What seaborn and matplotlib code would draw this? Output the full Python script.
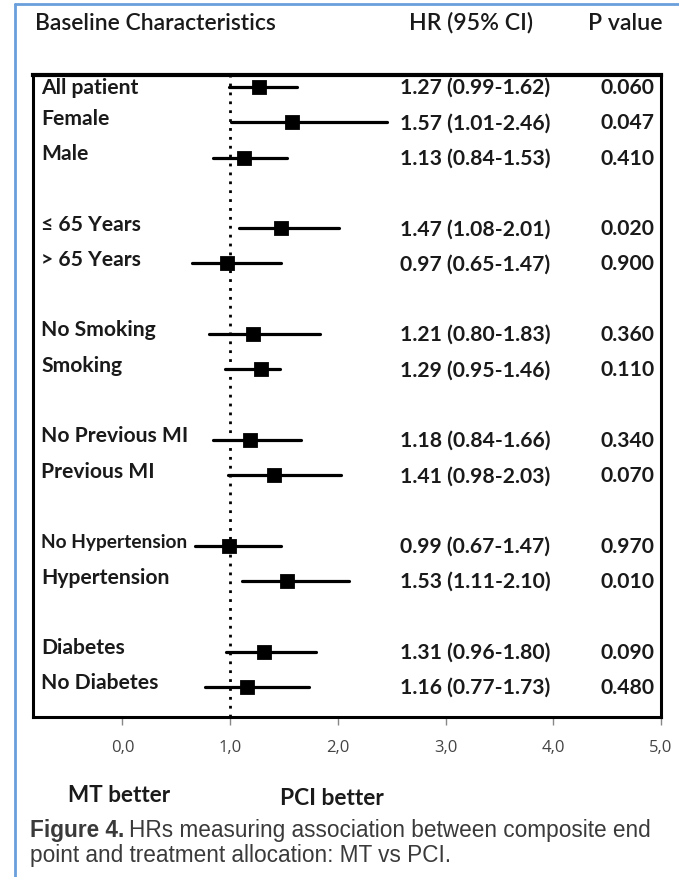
import matplotlib
matplotlib.use("Agg")
import matplotlib.pyplot as plt
import matplotlib.transforms as mtransforms
import numpy as np
import pandas as pd
import seaborn as sns

# Subgroups, grouped as they appear in the table (a blank row separates groups)
groups = [
    ["All patient", "Female", "Male"],
    ["≤ 65 Years", "> 65 Years"],
    ["No Smoking", "Smoking"],
    ["No Previous MI", "Previous MI"],
    ["No Hypertension", "Hypertension"],
    ["Diabetes", "No Diabetes"],
]
hr = [1.27, 1.57, 1.13, 1.47, 0.97, 1.21, 1.29, 1.18, 1.41, 0.99, 1.53, 1.31, 1.16]
ci_low = [0.99, 1.01, 0.84, 1.08, 0.65, 0.80, 0.95, 0.84, 0.98, 0.67, 1.11, 0.96, 0.77]
ci_high = [1.62, 2.46, 1.53, 2.01, 1.47, 1.83, 1.46, 1.66, 2.03, 1.47, 2.10, 1.80, 1.73]
p_values = ["0.060", "0.047", "0.410", "0.020", "0.900", "0.360", "0.110",
            "0.340", "0.070", "0.970", "0.010", "0.090", "0.480"]
x_ticks = [0, 1, 2, 3, 4, 5]
x_tick_labels = ["0,0", "1,0", "2,0", "3,0", "4,0", "5,0"]

# Row order with spacer rows between groups
order = []
labels = []
for gi, g in enumerate(groups):
    if gi > 0:
        order.append(" " * gi)
    for name in g:
        order.append(name)
        labels.append(name)
slot = {name: i for i, name in enumerate(order)}

# Long table: low / estimate / high for each subgroup, so that the
# median gives the HR and the 0-100 percentile interval gives the CI
rows = []
for name, lo, est, hi in zip(labels, ci_low, hr, ci_high):
    for v in (lo, est, hi):
        rows.append({"subgroup": name, "hr": v})
df = pd.DataFrame(rows)

sns.set_theme(style="white")
plt.rcParams["font.family"] = ["Lato", "DejaVu Sans"]

W, H = 679, 878
fig = plt.figure(figsize=(W / 100, H / 100), dpi=100)
fig.patch.set_facecolor("white")

left, right, top, bottom = 33, 661, 76, 718
ax = fig.add_axes([left / W, 1 - bottom / H, (right - left) / W, (bottom - top) / H])

sns.pointplot(
    data=df, x="hr", y="subgroup", order=order, orient="h",
    estimator="median", errorbar=("pi", 100), color="black",
    markers="s", linestyles="none", markersize=8.8,
    err_kws={"linewidth": 2.3}, capsize=0, ax=ax,
)

ax.set_xlim(-0.83, 5.0)
ax.set_ylim(17.85, -0.34)
ax.axvline(1.0, color="black", linestyle=(0, (1, 2.2)), linewidth=2.0, zorder=1)

ax.set_ylabel("")
ax.set_xlabel("")
ax.set_yticks([])
ax.set_xticks(x_ticks)
ax.set_xticklabels(x_tick_labels, fontsize=12, color="#444444",
                   family=["Open Sans", "DejaVu Sans"])
ax.tick_params(axis="x", direction="out", length=6, width=1, color="#888888",
               pad=10, bottom=True)
for s in ax.spines.values():
    s.set_visible(True)
    s.set_color("black")
    s.set_linewidth(2.2)
ax.spines["top"].set_linewidth(3)

trans = mtransforms.blended_transform_factory(ax.transAxes, ax.transData)
for i, (name, est, lo, hi, p) in enumerate(zip(labels, hr, ci_low, ci_high, p_values)):
    y = slot[name]
    fs = 13.8 if name == "No Hypertension" else 15.2
    lab_base = y + (0.16 if i == 0 else 0.04)
    ax.text(0.013, lab_base, name, transform=trans, ha="left", va="baseline",
            fontsize=fs, fontweight="bold", color="#1a1a1a")
    ax.text(0.585, y + 0.17, f"{est:.2f} ({lo:.2f}-{hi:.2f})", transform=trans,
            ha="left", va="baseline", fontsize=15.2, fontweight="bold", color="#1a1a1a")
    ax.text(0.99, y + 0.17, p, transform=trans, ha="right", va="baseline",
            fontsize=15.2, fontweight="bold", color="#1a1a1a")

# Column headers above the table
def fig_text(x, y, s, **kw):
    return fig.text(x / W, 1 - y / H, s, **kw)

fig_text(35, 23, "Baseline Characteristics", ha="left", va="center",
         fontsize=16.5, color="#1a1a1a", fontweight="semibold")
fig_text(471, 23, "HR (95% CI)", ha="center", va="center",
         fontsize=16.7, color="#1a1a1a", fontweight="semibold")
fig_text(625, 23, "P value", ha="center", va="center",
         fontsize=16.7, color="#1a1a1a", fontweight="semibold")

# Direction labels under the axis
fig_text(119, 796, "MT better", ha="center", va="center",
         fontsize=16.2, fontweight="bold", color="#1a1a1a")
fig_text(332, 799, "PCI better", ha="center", va="center",
         fontsize=16.4, fontweight="bold", color="#1a1a1a")

# Caption
cap_font = ["Liberation Sans", "DejaVu Sans"]
cap_fs = 16.3
t1 = fig_text(30, 831, "Figure 4.", ha="left", va="center", fontsize=cap_fs,
              fontweight="bold", color="#3a3a3a", family=cap_font)
fig.canvas.draw()
bb = t1.get_window_extent(renderer=fig.canvas.get_renderer())
fig.text(bb.x1 / W + 5 / W, 1 - 831 / H,
         "HRs measuring association between composite end",
         ha="left", va="center", fontsize=cap_fs, color="#3a3a3a", family=cap_font)
fig_text(30, 856, "point and treatment allocation: MT vs PCI.", ha="left",
         va="center", fontsize=cap_fs, color="#3a3a3a", family=cap_font)

# Page frame lines
blue = "#6a9fdc"
fig.add_artist(plt.Line2D([15 / W, 15 / W], [0, 1 - 5 / H], transform=fig.transFigure,
                          color=blue, linewidth=2))
fig.add_artist(plt.Line2D([15 / W, 1], [1 - 5 / H, 1 - 5 / H], transform=fig.transFigure,
                          color=blue, linewidth=2))

fig.savefig("out.png", dpi=100)
